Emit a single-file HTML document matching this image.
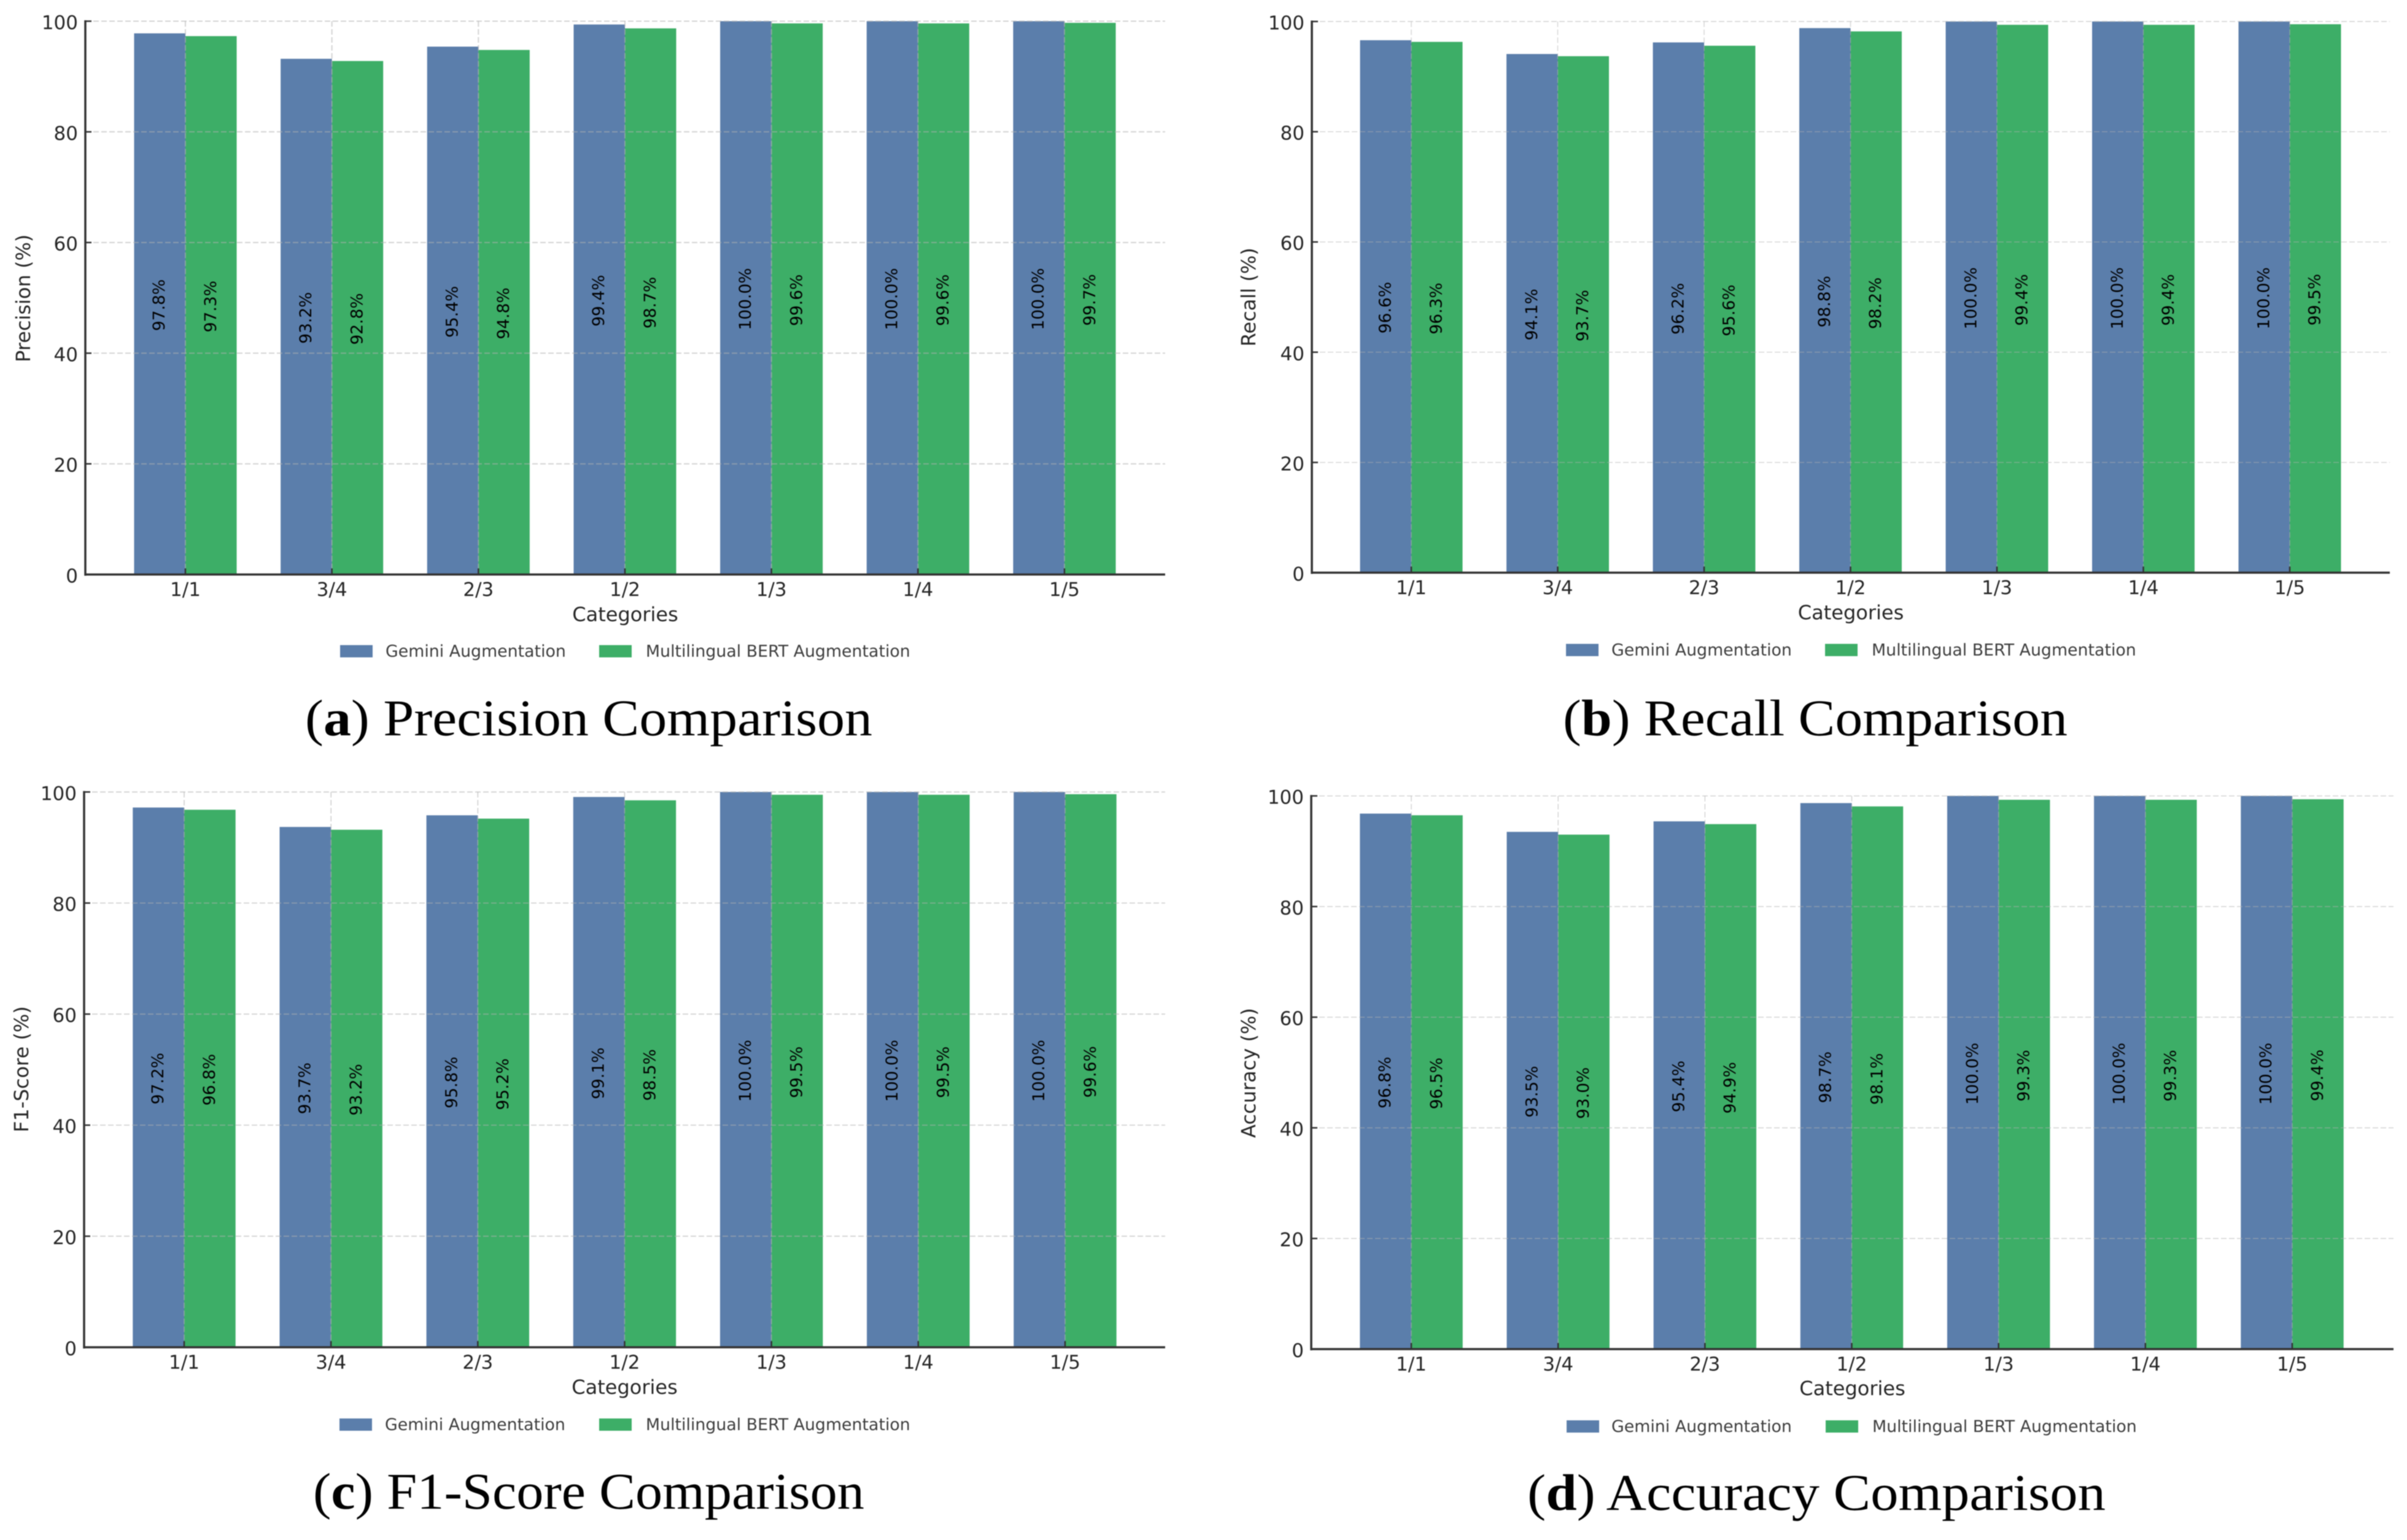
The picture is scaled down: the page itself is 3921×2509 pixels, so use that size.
<!DOCTYPE html>
<html lang="en">
<head>
<meta charset="utf-8">
<title>Augmentation Comparison Charts</title>
<style>
html,body{margin:0;padding:0;background:#fff;width:3921px;height:2509px;overflow:hidden}
svg{display:block;text-rendering:geometricPrecision;filter:blur(0.7px)}
.sans{font-family:"DejaVu Sans","Liberation Sans",sans-serif}
.tick{font-size:31px;fill:#262626}
.title{font-size:32px;fill:#262626;text-anchor:middle}
.leg{font-size:26.8px;fill:#3d3d3d}
.val{font-size:26.5px;fill:#000;text-anchor:middle}
.cap{font-family:"Liberation Serif",serif;font-size:84px;fill:#000}
</style>
</head>
<body>
<svg id="figure" xmlns="http://www.w3.org/2000/svg" width="3921" height="2509" viewBox="0 0 3921 2509">
  <rect x="0" y="0" width="3921" height="2509" fill="#ffffff"/>

  <g id="panel-a">
    <g id="plot-a"></g>
    <text class="sans title" transform="translate(49,486) rotate(-90)">Precision (%)</text>
    <text class="sans title" x="1018.5" y="1012">Categories</text>
    <g>
      <g>
        <rect x="554" y="1051" width="53" height="20" fill="#5b7eab"/>
        <text class="sans leg" x="628" y="1070">Gemini Augmentation</text>
      </g>
      <g>
        <rect x="976" y="1051" width="53" height="20" fill="#3dae67"/>
        <text class="sans leg" x="1052" y="1070">Multilingual BERT Augmentation</text>
      </g>
    </g>
    <text class="cap" x="497" y="1198" textLength="924" lengthAdjust="spacingAndGlyphs">(<tspan font-weight="700">a</tspan>) Precision Comparison</text>
  </g>

  <g id="panel-b">
    <g id="plot-b"></g>
    <text class="sans title" transform="translate(2045,484) rotate(-90)">Recall (%)</text>
    <text class="sans title" x="3015" y="1009">Categories</text>
    <g>
      <g>
        <rect x="2551" y="1049" width="53" height="20" fill="#5b7eab"/>
        <text class="sans leg" x="2625" y="1068">Gemini Augmentation</text>
      </g>
      <g>
        <rect x="2973" y="1049" width="53" height="20" fill="#3dae67"/>
        <text class="sans leg" x="3049" y="1068">Multilingual BERT Augmentation</text>
      </g>
    </g>
    <text class="cap" x="2546" y="1198" textLength="822" lengthAdjust="spacingAndGlyphs">(<tspan font-weight="700">b</tspan>) Recall Comparison</text>
  </g>

  <g id="panel-c">
    <g id="plot-c"></g>
    <text class="sans title" transform="translate(46,1742) rotate(-90)">F1-Score (%)</text>
    <text class="sans title" x="1017.5" y="2271">Categories</text>
    <g>
      <g>
        <rect x="553" y="2311" width="53" height="20" fill="#5b7eab"/>
        <text class="sans leg" x="627" y="2330">Gemini Augmentation</text>
      </g>
      <g>
        <rect x="976" y="2311" width="53" height="20" fill="#3dae67"/>
        <text class="sans leg" x="1052" y="2330">Multilingual BERT Augmentation</text>
      </g>
    </g>
    <text class="cap" x="510" y="2458" textLength="898" lengthAdjust="spacingAndGlyphs">(<tspan font-weight="700">c</tspan>) F1-Score Comparison</text>
  </g>

  <g id="panel-d">
    <g id="plot-d"></g>
    <text class="sans title" transform="translate(2045,1748) rotate(-90)">Accuracy (%)</text>
    <text class="sans title" x="3017.5" y="2273">Categories</text>
    <g>
      <g>
        <rect x="2552" y="2314" width="53" height="20" fill="#5b7eab"/>
        <text class="sans leg" x="2625" y="2333">Gemini Augmentation</text>
      </g>
      <g>
        <rect x="2974" y="2314" width="53" height="20" fill="#3dae67"/>
        <text class="sans leg" x="3050" y="2333">Multilingual BERT Augmentation</text>
      </g>
    </g>
    <text class="cap" x="2488" y="2460" textLength="942" lengthAdjust="spacingAndGlyphs">(<tspan font-weight="700">d</tspan>) Accuracy Comparison</text>
  </g>
</svg>

<script>
const categories = ['1/1', '3/4', '2/3', '1/2', '1/3', '1/4', '1/5'];
const yTicks = [0, 20, 40, 60, 80, 100];

const precisionGemini = [97.8, 93.2, 95.4, 99.4, 100.0, 100.0, 100.0];
const precisionBert = [97.3, 92.8, 94.8, 98.7, 99.6, 99.6, 99.7];
const recallGemini = [96.6, 94.1, 96.2, 98.8, 100.0, 100.0, 100.0];
const recallBert = [96.3, 93.7, 95.6, 98.2, 99.4, 99.4, 99.5];
const f1Gemini = [97.2, 93.7, 95.8, 99.1, 100.0, 100.0, 100.0];
const f1Bert = [96.8, 93.2, 95.2, 98.5, 99.5, 99.5, 99.6];
const accuracyGemini = [96.8, 93.5, 95.4, 98.7, 100.0, 100.0, 100.0];
const accuracyBert = [96.5, 93.0, 94.9, 98.1, 99.3, 99.3, 99.4];

const SVG_NS = 'http://www.w3.org/2000/svg';
const BLUE = '#5b7eab';
const GREEN = '#3dae67';
const AXIS = '#333333';

function make(tag, parent, attrs) {
  const node = document.createElementNS(SVG_NS, tag);
  for (const key in attrs) node.setAttribute(key, attrs[key]);
  parent.appendChild(node);
  return node;
}

function drawPanel(plotId, key, gemini, bert, box) {
  const root = document.getElementById(plotId);
  const yScale = v => box.y0 + (box.y100 - box.y0) * v / 100;
  const xScale = i => box.first + i * (box.last - box.first) / (categories.length - 1);
  const step = (box.last - box.first) / (categories.length - 1);
  const barWidth = step * 0.35;

  const bars = make('g', root, {});
  
  

  categories.forEach((cat, i) => {
    const x = xScale(i);
    const b1 = make('rect', bars, {x: x - barWidth, y: yScale(gemini[i]), width: barWidth, height: box.y0 - yScale(gemini[i]), fill: BLUE});
    
    
    const b2 = make('rect', bars, {x: x, y: yScale(bert[i]), width: barWidth, height: box.y0 - yScale(bert[i]), fill: GREEN});
    
    
  });

  const grid = make('g', root, {stroke: '#b0b0b0', 'stroke-opacity': 0.55, 'stroke-width': box.grid, 'stroke-dasharray': '9 4', fill: 'none'});
  
  
  yTicks.forEach(t => {
    const line = make('line', grid, {x1: box.left, x2: box.right, y1: yScale(t), y2: yScale(t)});
    
    
  });
  categories.forEach((cat, i) => {
    const line = make('line', grid, {x1: xScale(i), x2: xScale(i), y1: box.y100, y2: box.y0});
    
    
  });

  categories.forEach((cat, i) => {
    const x = xScale(i);
    const l1 = make('text', root, {class: 'sans val', transform: 'translate(' + (x - barWidth / 2 + 8) + ',' + ((yScale(gemini[i]) + box.y0) / 2 + 2) + ') rotate(-90)'});
    
    
    l1.textContent = gemini[i].toFixed(1) + '%';
    const l2 = make('text', root, {class: 'sans val', transform: 'translate(' + (x + barWidth / 2 + 8) + ',' + ((yScale(bert[i]) + box.y0) / 2 + 2) + ') rotate(-90)'});
    
    
    l2.textContent = bert[i].toFixed(1) + '%';
  });

  const yAxis = make('g', root, {});
  
  
  const ySpine = make('line', yAxis, {x1: box.left, x2: box.left, y1: box.y100 - 1.5, y2: box.y0 + 2, stroke: AXIS, 'stroke-width': 3.5});
  
  
  yTicks.forEach(t => {
    const mark = make('line', yAxis, {x1: box.left, x2: box.left + 10, y1: yScale(t), y2: yScale(t), stroke: AXIS, 'stroke-width': 2.5});
    
    
    const lab = make('text', yAxis, {class: 'sans tick', x: box.left - 12, y: yScale(t) + 13, 'text-anchor': 'end'});
    
    
    lab.textContent = t;
  });

  const xAxis = make('g', root, {});
  
  
  const xSpine = make('line', xAxis, {x1: box.left - 1.5, x2: box.right, y1: box.y0, y2: box.y0, stroke: AXIS, 'stroke-width': 3.5});
  
  
  categories.forEach((cat, i) => {
    const mark = make('line', xAxis, {x1: xScale(i), x2: xScale(i), y1: box.y0, y2: box.y0 - 10, stroke: AXIS, 'stroke-width': 2.5});
    
    
    const lab = make('text', xAxis, {class: 'sans tick', x: xScale(i), y: box.y0 + 35, 'text-anchor': 'middle'});
    
    
    lab.textContent = cat;
  });
}

drawPanel('plot-a', 'precision', precisionGemini, precisionBert, {left: 139, right: 1898, y0: 936, y100: 34.5, first: 302, last: 1734, grid: 2});
drawPanel('plot-b', 'recall', recallGemini, recallBert, {left: 2137, right: 3893, y0: 933, y100: 35, first: 2299, last: 3730, grid: 1.4});
drawPanel('plot-c', 'f1-score', f1Gemini, f1Bert, {left: 137, right: 1898, y0: 2195, y100: 1290.3, first: 300, last: 1735, grid: 1.8});
drawPanel('plot-d', 'accuracy', accuracyGemini, accuracyBert, {left: 2136, right: 3899, y0: 2198, y100: 1296.7, first: 2299, last: 3734, grid: 1.5});
</script>
</body>
</html>
